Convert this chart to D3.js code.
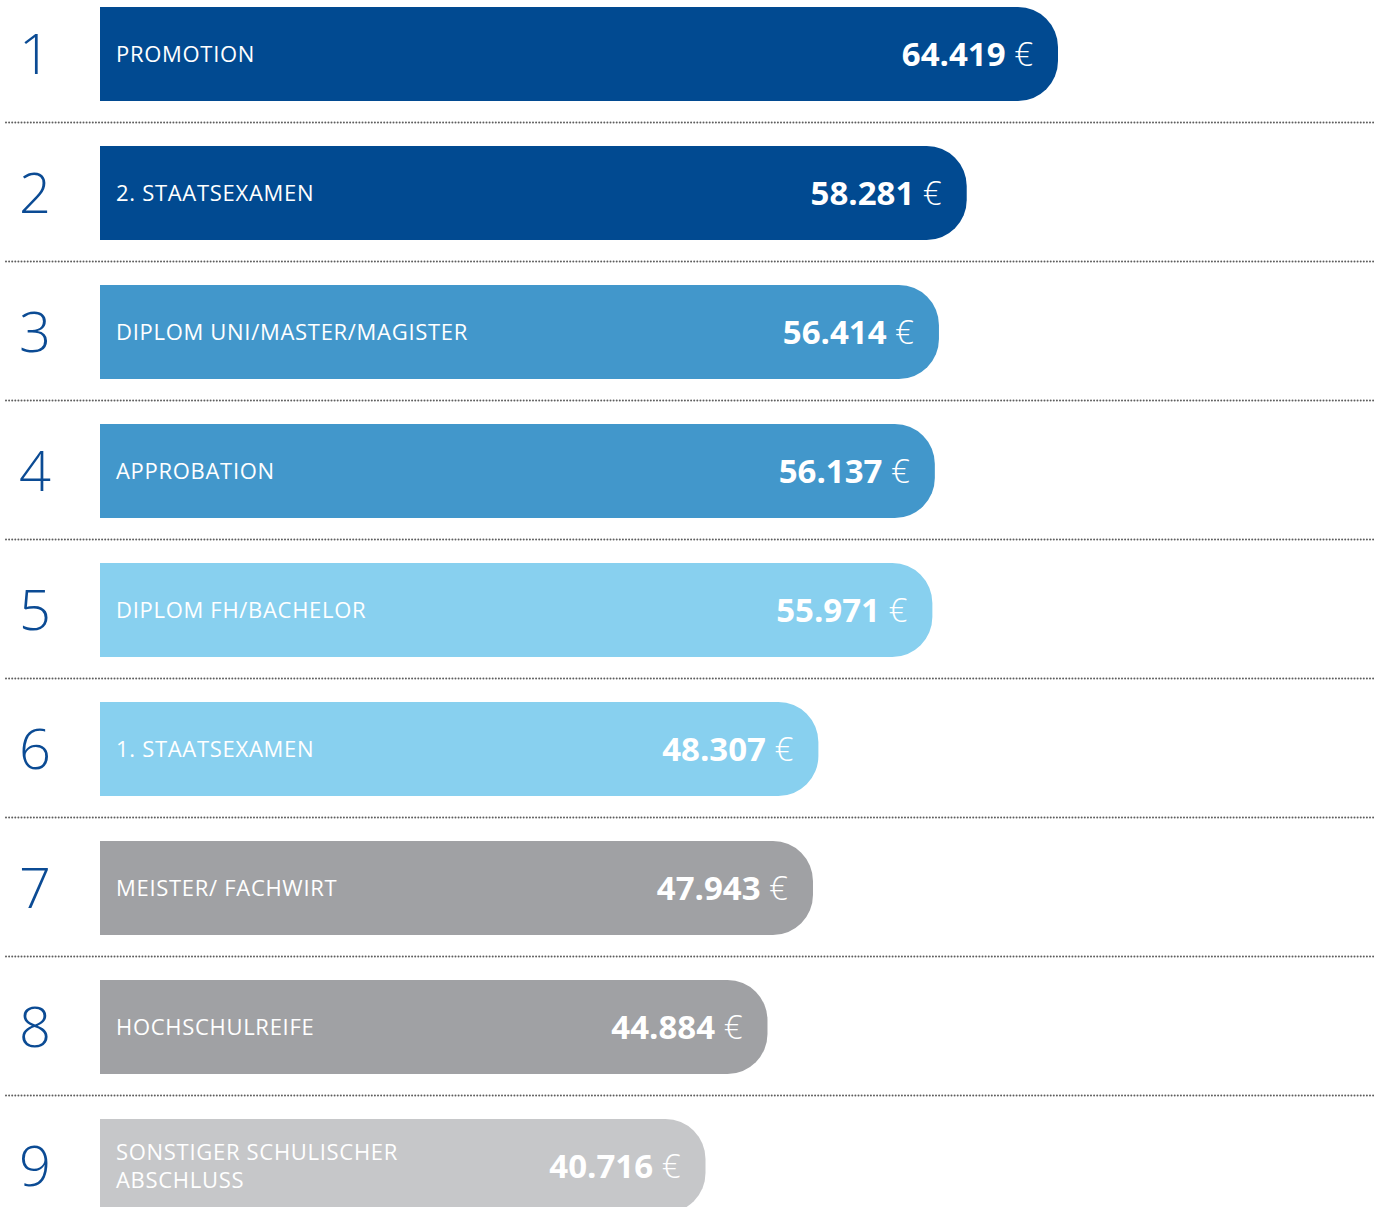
<!DOCTYPE html>
<html>
<head>
<meta charset="utf-8">
<script src="https://cdn.jsdelivr.net/npm/d3@7"></script>
<style>
  body { margin: 0; background: #fff; }
  svg { display: block; font-family: "Open Sans", "Noto Sans", sans-serif; }
</style>
</head>
<body>
<div id="chart"></div>
<script>
// data
const ranks = [1, 2, 3, 4, 5, 6, 7, 8, 9];
const categories = [
  ['PROMOTION'],
  ['2. STAATSEXAMEN'],
  ['DIPLOM UNI/MASTER/MAGISTER'],
  ['APPROBATION'],
  ['DIPLOM FH/BACHELOR'],
  ['1. STAATSEXAMEN'],
  ['MEISTER/ FACHWIRT'],
  ['HOCHSCHULREIFE'],
  ['SONSTIGER SCHULISCHER', 'ABSCHLUSS']
];
const values = [64419, 58281, 56414, 56137, 55971, 48307, 47943, 44884, 40716];
const valueLabels = ['64.419', '58.281', '56.414', '56.137', '55.971', '48.307', '47.943', '44.884', '40.716'];
const groups = ['dark', 'dark', 'mid', 'mid', 'light', 'light', 'grey', 'grey', 'pale'];

const W = 1385, H = 1207;
const colors = { dark: '#014a91', mid: '#4297cb', light: '#88d0ef', grey: '#a0a1a4', pale: '#c6c7c9' };
const rankColor = '#0b4b94';

const svg = d3.select('#chart').append('svg')
  .attr('width', W).attr('height', H);

const x = d3.scaleLinear().domain([0, d3.max(values)]).range([100, 1058]);
// rank -> top of bar (row step 139)
const y = d3.scaleLinear().domain([1, 9]).range([7, 7 + 139 * 8]);
const bh = 94;
const r = 40;
const lineGap = 28;

function barPath(x0, x1, y0, h) {
  const p = d3.path();
  p.moveTo(x0, y0);
  p.lineTo(x1 - r, y0);
  p.arcTo(x1, y0, x1, y0 + r, r);
  p.lineTo(x1, y0 + h - r);
  p.arcTo(x1, y0 + h, x1 - r, y0 + h, r);
  p.lineTo(x0, y0 + h);
  p.closePath();
  return p.toString();
}

const data = ranks.map((rk, i) => ({
  rank: rk, cat: categories[i], value: values[i], label: valueLabels[i], group: groups[i]
}));

// dotted separators
svg.append('g').selectAll('line')
  .data(data.slice(0, -1))
  .join('line')
  .attr('x1', 6).attr('x2', 1375)
  .attr('y1', d => y(d.rank) + bh + 21.5)
  .attr('y2', d => y(d.rank) + bh + 21.5)
  .attr('stroke', '#5e5e5e')
  .attr('stroke-width', 2)
  .attr('stroke-dasharray', '0 3.1')
  .attr('stroke-linecap', 'round');

const row = svg.append('g').selectAll('g')
  .data(data)
  .join('g');

row.append('path')
  .attr('d', d => barPath(x(0), x(d.value), y(d.rank), bh))
  .attr('fill', d => colors[d.group]);

// rank numbers
row.append('text')
  .attr('x', 35)
  .attr('y', d => y(d.rank) + bh / 2)
  .attr('dy', '0.35em')
  .attr('text-anchor', 'middle')
  .attr('font-size', 56)
  .attr('font-weight', 300)
  .attr('fill', rankColor)
  .text(d => d.rank);

// category labels (one text per line)
row.each(function (d) {
  const n = d.cat.length;
  d3.select(this).selectAll('text.cat')
    .data(d.cat)
    .join('text')
    .attr('class', 'cat')
    .attr('x', 116)
    .attr('y', (t, j) => y(d.rank) + bh / 2 + (j - (n - 1) / 2) * lineGap)
    .attr('dy', '0.36em')
    .attr('fill', '#fff')
    .attr('font-size', 22)
    .attr('letter-spacing', 0.7)
    .text(t => t);
});

// value labels
const vt = row.append('text')
  .attr('x', d => x(d.value) - 25)
  .attr('y', d => y(d.rank) + bh / 2)
  .attr('dy', '0.37em')
  .attr('font-size', 33)
  .attr('text-anchor', 'end')
  .attr('fill', '#fff');
vt.append('tspan')
  .attr('font-weight', 700)
  .text(d => d.label);
vt.append('tspan')
  .attr('font-weight', 300)
  .text(' €');
</script>
</body>
</html>
